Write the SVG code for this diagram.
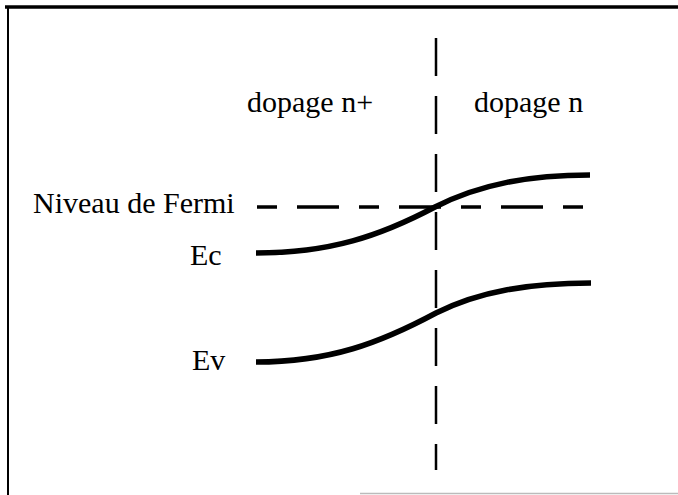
<svg xmlns="http://www.w3.org/2000/svg" width="678" height="495" viewBox="0 0 678 495">
<style>
  text { font-family: "Liberation Serif", "Times New Roman", serif; font-size: 30px; fill: #000; }
  .band { fill: none; stroke: #000; stroke-width: 5.5; stroke-linecap: butt; }
  .frame { stroke: #000; fill: none; }
</style>
<rect width="678" height="495" fill="#fff"/>
<g id="frame">
  <line class="frame" x1="5" y1="7" x2="678" y2="7" stroke-width="3.5"/>
  <line class="frame" x1="8" y1="6" x2="8" y2="495" stroke-width="2"/>
  <line x1="360" y1="493.5" x2="678" y2="493.5" stroke="#bbb" stroke-width="1.5"/>
</g>
<g id="labels">
  <text id="label-np" x="247" y="112">dopage n+</text>
  <text id="label-n" x="474" y="112">dopage n</text>
  <text id="label-fermi" x="33" y="213">Niveau de Fermi</text>
  <text id="label-ec" x="190" y="265">Ec</text>
  <text id="label-ev" x="192" y="370">Ev</text>
</g>
<g id="connectors">
  <line id="junction" x1="436" y1="38" x2="436" y2="470" stroke="#000" stroke-width="2.5" stroke-dasharray="38 20"/>
  <line id="fermi" x1="257" y1="207" x2="588" y2="207" stroke="#000" stroke-width="3.5" stroke-dasharray="20 20 42 20"/>
  <path id="ec" class="band" d="M256,253 C330,253 380,236 435,207 C480,184 530,175 590,175"/>
  <path id="ev" class="band" d="M256,362 C330,362 380,343 436,313 C480,291 530,283 591,283"/>
</g>
</svg>
